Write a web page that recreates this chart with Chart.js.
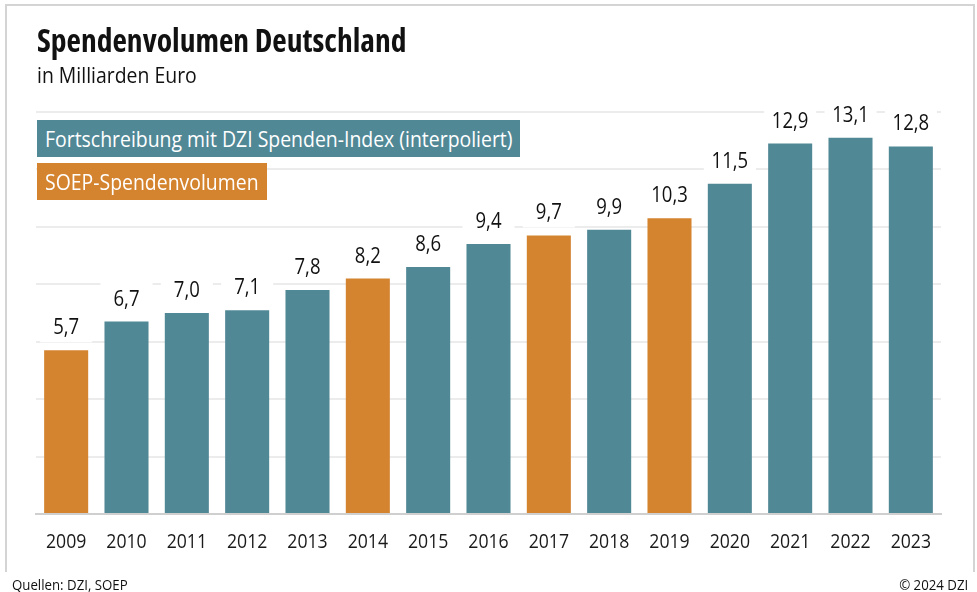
<!DOCTYPE html>
<html lang="de">
<head>
<meta charset="utf-8">
<script src="https://cdn.jsdelivr.net/npm/chart.js@4.4.1/dist/chart.umd.min.js"></script>
<style>
  body { margin: 0; width: 977px; height: 592px; background: #fff; position: relative; overflow: hidden;
         font-family: "Open Sans", sans-serif; color: #111; line-height: 1; }
  #frame { position: absolute; left: 5px; top: 4px; width: 966px; height: 566px; border: 2px solid #d4d4d4; border-bottom: none; }
  #chart { position: absolute; left: 0; top: 0; width: 977px; height: 592px; }
  h1 { position: absolute; left: 37px; top: 24px; margin: 0; font-size: 31.5px; font-weight: bold; font-stretch: 75%; line-height: 1; }
  .narrow { display: inline-block; white-space: nowrap; transform: scaleX(0.883); transform-origin: left center; }
  .sub { position: absolute; left: 37px; top: 62.5px; font-size: 22px; }
  #legend { position: absolute; left: 37px; top: 120px; z-index: 2; }
  #legend div { height: 37px; line-height: 37px; padding: 0 8px; margin-bottom: 6px; color: #fff; font-size: 22px; overflow: hidden; }
  .foot { position: absolute; top: 577px; font-size: 15px; }
</style>
</head>
<body>
<div id="frame"></div>
<div id="chart"><canvas id="bars"></canvas></div>
<h1>Spendenvolumen Deutschland</h1>
<div class="sub"><span class="narrow">in Milliarden Euro</span></div>
<div id="legend"></div>
<div class="foot" style="left:12px"><span class="narrow">Quellen: DZI, SOEP</span></div>
<div class="foot" style="right:9px"><span class="narrow" style="transform-origin: right center">© 2024 DZI</span></div>
<script>
const years = ['2009', '2010', '2011', '2012', '2013', '2014', '2015', '2016', '2017', '2018', '2019', '2020', '2021', '2022', '2023'];
const values = [5.7, 6.7, 7.0, 7.1, 7.8, 8.2, 8.6, 9.4, 9.7, 9.9, 10.3, 11.5, 12.9, 13.1, 12.8];
const soepYears = ['2009', '2014', '2017', '2019'];
const seriesNames = ['Fortschreibung mit DZI Spenden-Index (interpoliert)', 'SOEP-Spendenvolumen'];
const seriesColors = ['#518896', '#d4832f'];
const yTicks = [0, 2, 4, 6, 8, 10, 12, 14];

const indexValues = values.map((v, i) => soepYears.includes(years[i]) ? null : v);
const soepValues = values.map((v, i) => soepYears.includes(years[i]) ? v : null);

// the original face sits between Open Sans condensed and normal, so squeeze normal a bit
const squeeze = 0.883;
const family = '"Open Sans", sans-serif';

const legend = document.getElementById('legend');
seriesNames.forEach((name, i) => {
  const d = document.createElement('div');
  const s = document.createElement('span');
  s.className = 'narrow';
  s.textContent = name;
  d.appendChild(s);
  d.style.background = seriesColors[i];
  legend.appendChild(d);
  d.style.width = Math.round(s.offsetWidth * squeeze) + 'px';
});

function narrowText(ctx, txt, x, y) {
  ctx.save();
  ctx.translate(x, y);
  ctx.scale(squeeze, 1);
  ctx.fillText(txt, 0, 0);
  ctx.restore();
}

const textLabels = {
  id: 'textLabels',
  afterDatasetsDraw(chart) {
    const ctx = chart.ctx;
    ctx.save();
    ctx.font = '21px ' + family;
    ctx.textAlign = 'center';
    ctx.textBaseline = 'alphabetic';
    chart.data.datasets.forEach((ds, i) => {
      chart.getDatasetMeta(i).data.forEach((bar, j) => {
        const v = ds.data[j];
        if (v == null) return;
        const txt = v.toFixed(1).replace('.', ',');
        const w = Math.max(bar.width + 8, ctx.measureText(txt).width * squeeze + 10);
        ctx.fillStyle = '#fff';
        ctx.fillRect(bar.x - w / 2, bar.y - 39, w, 31);
        ctx.fillStyle = '#111';
        narrowText(ctx, txt, bar.x, bar.y - 16);
      });
    });
    // category labels under the axis
    const xs = chart.scales.x;
    ctx.font = '20px ' + family;
    ctx.fillStyle = '#1a1a1a';
    chart.data.labels.forEach((lab, i) => {
      narrowText(ctx, lab, xs.getPixelForTick(i), chart.chartArea.bottom + 34);
    });
    ctx.restore();
  }
};

new Chart(document.getElementById('bars'), {
  type: 'bar',
  data: {
    labels: years,
    datasets: [
      { label: seriesNames[0], data: indexValues, backgroundColor: seriesColors[0], grouped: false },
      { label: seriesNames[1], data: soepValues, backgroundColor: seriesColors[1], grouped: false }
    ]
  },
  options: {
    responsive: true,
    maintainAspectRatio: false,
    animation: false,
    barPercentage: 0.73,
    categoryPercentage: 1,
    layout: { padding: { left: 36, right: 36, top: 112, bottom: 0 } },
    plugins: { legend: { display: false }, tooltip: { enabled: false } },
    scales: {
      x: {
        grid: { display: false },
        border: { color: '#cfcfcf', width: 2 },
        ticks: { display: false },
        afterFit: s => { s.height = 78; }
      },
      y: {
        min: 0, max: 14,
        afterBuildTicks: s => { s.ticks = yTicks.map(v => ({ value: v })); },
        ticks: { display: false },
        border: { display: false },
        grid: { color: '#ececec', lineWidth: 2, drawTicks: false },
        afterFit: s => { s.width = 0; }
      }
    }
  },
  plugins: [textLabels]
});
</script>
</body>
</html>
